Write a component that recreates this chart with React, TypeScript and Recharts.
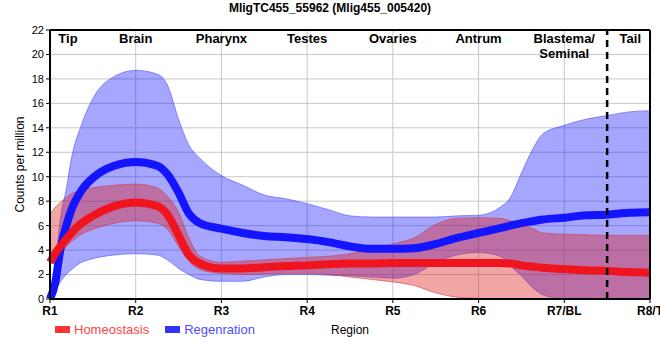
import { ComposedChart, Area, Line, XAxis, YAxis, CartesianGrid, ReferenceLine } from "recharts";

// sample positions along the body axis (1 = R1 ... 8 = R8/T)
const xs = [1, 1.06, 1.12, 1.19, 1.25, 1.37, 1.5, 1.75, 2, 2.25, 2.37, 2.5, 2.62, 2.75, 3, 3.25, 3.5, 3.75, 4, 4.25, 4.5, 4.75, 5, 5.25, 5.5, 5.75, 6, 6.25, 6.37, 6.5, 6.62, 6.75, 7, 7.25, 7.5, 7.75, 8];

const homeoMid = [3.0, 3.7, 4.3, 4.9, 5.4, 6.2, 6.8, 7.6, 7.9, 7.6, 6.9, 5.2, 3.6, 2.9, 2.5, 2.5, 2.6, 2.7, 2.75, 2.85, 2.9, 2.9, 2.95, 2.95, 2.95, 2.95, 2.95, 2.95, 2.9, 2.75, 2.65, 2.55, 2.45, 2.35, 2.3, 2.2, 2.15];
const homeoLow = [2.8, 3.2, 3.7, 4.3, 4.7, 5.3, 5.7, 6.2, 6.4, 6.2, 5.7, 4.3, 3.1, 2.4, 2.1, 2.0, 2.05, 2.1, 2.1, 2.0, 1.8, 1.6, 1.4, 1.1, 0.5, 0.15, 0.05, 0, 0, 0, 0, 0, 0, 0, 0, 0, 0];
const homeoHigh = [6.9, 7.5, 7.9, 8.3, 8.6, 8.9, 9.1, 9.3, 9.4, 9.1, 8.4, 7.1, 5.0, 3.5, 3.0, 3.1, 3.2, 3.3, 3.4, 3.5, 3.7, 4.05, 4.5, 5.0, 6.1, 6.6, 6.65, 6.6, 6.4, 6.1, 5.8, 5.4, 5.3, 5.25, 5.2, 5.2, 5.2];

const regenMid = [0, 1.3, 4.0, 6.0, 7.3, 8.9, 9.9, 10.9, 11.2, 10.9, 10.2, 8.7, 7.0, 6.2, 5.75, 5.4, 5.15, 5.05, 4.9, 4.65, 4.3, 4.1, 4.1, 4.15, 4.5, 5.0, 5.4, 5.8, 6.0, 6.2, 6.35, 6.5, 6.65, 6.85, 6.9, 7.05, 7.1];
const regenLow = [0, 0.7, 1.4, 2.0, 2.4, 3.0, 3.3, 3.6, 3.7, 3.6, 3.2, 2.5, 2.0, 1.6, 1.45, 1.45, 1.8, 2.0, 2.0, 1.95, 1.9, 1.8, 1.7, 2.0, 3.0, 3.6, 3.8, 3.5, 2.7, 1.9, 1.0, 0.35, 0, 0, 0, 0, 0];
const regenHigh = [0, 2.5, 6.5, 9.0, 11.5, 14.3, 16.4, 18.2, 18.7, 18.4, 17.5, 14.7, 12.6, 11.5, 10.1, 9.3, 8.5, 8.2, 7.8, 7.3, 6.8, 6.7, 6.7, 6.7, 6.7, 6.8, 6.85, 7.5, 8.3, 10.3, 12.1, 13.5, 14.2, 14.7, 15.0, 15.3, 15.4];

const regionTicks = ["R1", "R2", "R3", "R4", "R5", "R6", "R7/BL", "R8/T"];
const tissueNames = [["Tip"], ["Brain"], ["Pharynx"], ["Testes"], ["Ovaries"], ["Antrum"], ["Blastema/", "Seminal"], ["Tail"]];
const tissueAt = [1.21, 2, 3, 4, 5, 6, 7, 7.77];
const yTicks = [0, 2, 4, 6, 8, 10, 12, 14, 16, 18, 20, 22];

const data = xs.map((x, i) => ({
  x,
  homeo: homeoMid[i],
  homeoBand: [homeoLow[i], homeoHigh[i]],
  regen: regenMid[i],
  regenBand: [regenLow[i], regenHigh[i]],
}));

const font = "Arial, 'Liberation Sans', sans-serif";

function TissueLabel(props: any) {
  const { viewBox, lines } = props;
  if (!viewBox) return null;
  const x = viewBox.x;
  const y = viewBox.y + 13;
  return (
    <text x={x} y={y} textAnchor="middle" fontFamily={font} fontSize={13} fontWeight="bold" fill="#000">
      {lines.map((l: string, i: number) => (
        <tspan key={l} x={x} dy={i === 0 ? 0 : 15}>{l}</tspan>
      ))}
    </text>
  );
}

export default function App() {
  return (
    <div style={{ position: "absolute", left: 0, top: 0, width: 660, height: 360, background: "#fff", fontFamily: font }}>
      <div style={{ position: "absolute", top: 1, left: 0, width: 660, textAlign: "center", fontSize: 12, fontWeight: "bold" }}>
        MligTC455_55962 (Mlig455_005420)
      </div>
      <ComposedChart width={660} height={360} data={data} margin={{ top: 30, right: 10, left: 0, bottom: 41 }}>
        <CartesianGrid stroke="#c8c8c8" />
        <XAxis
          dataKey="x"
          type="number"
          domain={[1, 8]}
          ticks={[1, 2, 3, 4, 5, 6, 7, 8]}
          tickFormatter={(v: number) => regionTicks[v - 1]}
          height={20}
          tickSize={4}
          tickMargin={3}
          stroke="#000"
          axisLine={{ stroke: "#000", strokeWidth: 2 }}
          tick={{ fill: "#000", fontSize: 12, fontWeight: "bold", fontFamily: font }}
          interval={0}
          label={{ value: "Region", position: "bottom", offset: 6, fill: "#000", fontSize: 12, fontFamily: font }}
        />
        <YAxis
          type="number"
          domain={[0, 22]}
          ticks={yTicks}
          width={50}
          tickSize={4}
          tickMargin={2}
          axisLine={{ stroke: "#000", strokeWidth: 2 }}
          tickLine={{ stroke: "#000" }}
          tick={{ fill: "#000", fontSize: 11, fontFamily: font }}
          interval={0}
          label={{ value: "Counts per million", angle: -90, position: "insideLeft", offset: 20, fill: "#000", fontSize: 12, fontFamily: font, style: { textAnchor: "middle" } }}
        />
        <Area
          dataKey="regenBand"
          type="monotone"
          fill="#0000ff"
          fillOpacity={0.35}
          stroke="#5050ff"
          strokeOpacity={0.6}
          strokeWidth={1}
          isAnimationActive={false}
          activeDot={false}
        />
        <Line dataKey="regen" type="monotone" stroke="#1414ff" strokeWidth={8} dot={false} activeDot={false} isAnimationActive={false} />
        <Area
          dataKey="homeoBand"
          type="monotone"
          fill="#dc1e1e"
          fillOpacity={0.4}
          stroke="#d04040"
          strokeOpacity={0.6}
          strokeWidth={1}
          isAnimationActive={false}
          activeDot={false}
        />
        <Line dataKey="homeo" type="monotone" stroke="#f0141e" strokeWidth={8} dot={false} activeDot={false} isAnimationActive={false} />
        <ReferenceLine x={7.5} stroke="#000" strokeWidth={2.5} strokeDasharray="7 5" />
        <ReferenceLine y={22} stroke="#000" strokeWidth={2} />
        <ReferenceLine x={8} stroke="#000" strokeWidth={2} />
        {tissueAt.map((t, i) => (
          <ReferenceLine key={t} x={t} stroke="none" label={<TissueLabel lines={tissueNames[i]} />} />
        ))}
      </ComposedChart>
      <div style={{ position: "absolute", left: 55, top: 322, display: "flex", alignItems: "center", fontSize: 13 }}>
        <span style={{ display: "inline-block", width: 15, height: 7, background: "#ff3333", marginRight: 4 }} />
        <span style={{ color: "#ff4444", marginRight: 16 }}>Homeostasis</span>
        <span style={{ display: "inline-block", width: 15, height: 7, background: "#3333ff", marginRight: 4 }} />
        <span style={{ color: "#4d4dff" }}>Regenration</span>
      </div>
    </div>
  );
}
